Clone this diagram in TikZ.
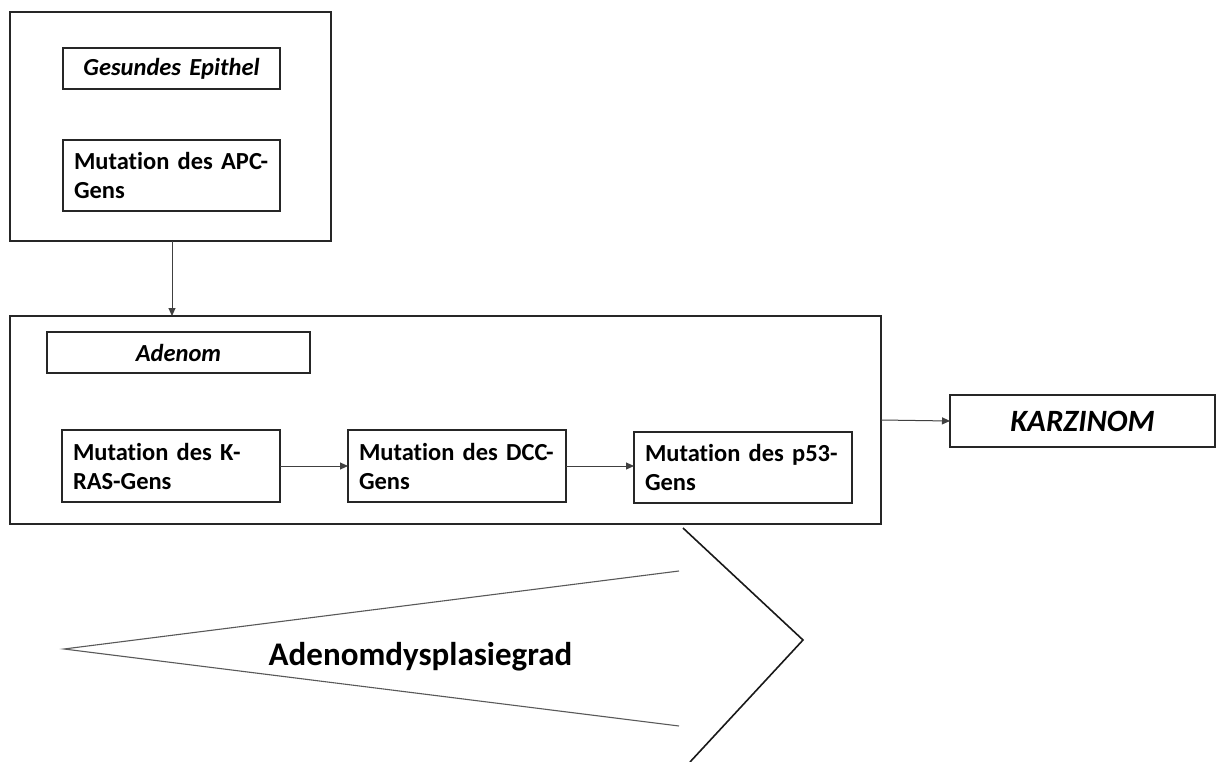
\documentclass[tikz,border=0pt]{standalone}
\usepackage{fontspec}
\setmainfont{Carlito}[Ligatures=NoCommon]
\usetikzlibrary{arrows.meta}
\begin{document}
\begin{tikzpicture}[x=1pt,y=-1pt,
  frame/.style={draw=black!85, line width=1.3pt, anchor=north west, inner sep=0pt, outer sep=0pt},
  stagebox/.style={draw=black!85, line width=1.3pt, anchor=north west, inner ysep=0pt,
    inner xsep=11pt, outer sep=0pt, align=left,
    font=\fontsize{24.5}{29}\selectfont\bfseries},
  titlebox/.style={stagebox, align=center, font=\fontsize{24.5}{29}\selectfont\bfseries\itshape},
  conn/.style={draw=black!75, line width=1pt, -{Triangle[length=8pt,width=7pt]}},
  wedge/.style={draw=black!65, line width=1.1pt},
  chevron/.style={draw=black!90, line width=1.6pt}
]
% canvas
\fill[white] (0,0) rectangle (1216,762);
\useasboundingbox (0,0) rectangle (1216,762);

% healthy epithelium stage
\node[frame, minimum width=321pt, minimum height=229pt] (healthy) at (10,12) {};
\node[titlebox, minimum width=217pt, minimum height=41pt, text width=195pt] (epi) at (63,48) {Gesundes Epithel};
\node[stagebox, minimum width=217pt, minimum height=71pt, text width=195pt] (apc) at (63,140) {Mutation des APC-\\Gens};

% adenoma stage
\node[frame, minimum width=871pt, minimum height=208pt] (adenoma) at (10,316) {};
\node[titlebox, minimum width=263pt, minimum height=41pt, text width=241pt] (aden) at (47,332) {Adenom};
\node[stagebox, minimum width=218pt, minimum height=72pt, text width=196pt] (kras) at (62,430) {Mutation des K-\\RAS-Gens};
\node[stagebox, minimum width=218pt, minimum height=72pt, text width=196pt] (dcc) at (348,430) {Mutation des DCC-\\Gens};
\node[stagebox, minimum width=218pt, minimum height=71pt, text width=196pt] (p53) at (634,432) {Mutation des p53-\\Gens};

% carcinoma
\node[titlebox, minimum width=265pt, minimum height=52pt, text width=243pt,
  font=\fontsize{31}{36}\selectfont\bfseries\itshape] (karz) at (950,395) {KARZINOM};

% connectors
\draw[conn] (healthy.south -| 172,0) -- (adenoma.north -| 172,0);
\draw[conn] (kras.east) -- (dcc.west);
\draw[conn] (dcc.east) -- (dcc.east -| p53.west);
\draw[conn] (adenoma.east) -- (karz.west);

% dysplasia grade arrow
\draw[wedge] (679,571) -- (64,649) -- (679,726);
\draw[chevron] (683,528) -- (803,640) -- (690,762);
\node[anchor=base, inner sep=0pt, font=\fontsize{33}{38}\selectfont\bfseries] (grade) at (420.5,665) {Adenomdysplasiegrad};
\end{tikzpicture}
\end{document}
